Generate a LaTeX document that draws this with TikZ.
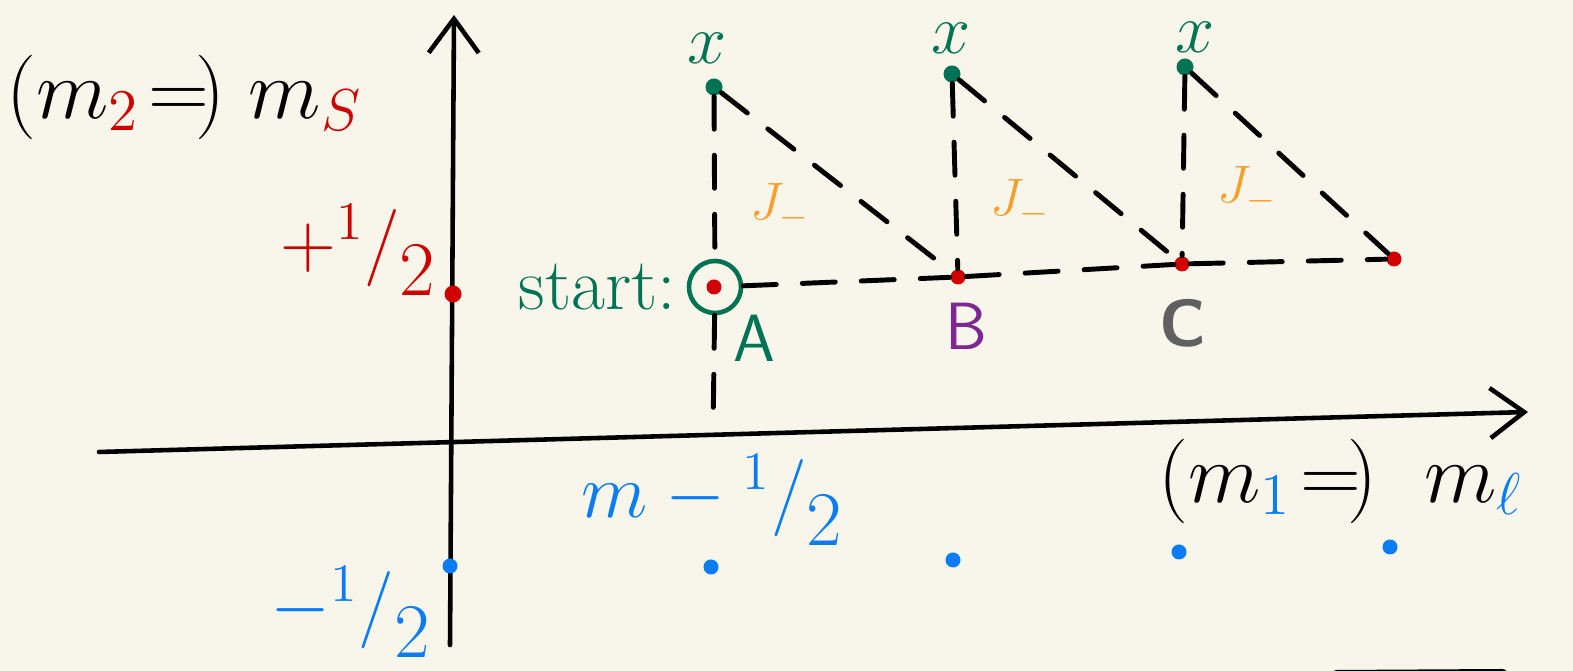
\RequirePackage{fix-cm}
\documentclass[tikz,border=0pt]{standalone}
\usepackage{fontspec}
\usepackage{amsmath,amssymb}
\usepackage{xcolor}
\usepackage{tikz}
\usetikzlibrary{positioning,arrows.meta}

\definecolor{paper}{RGB}{248,246,234}
\definecolor{spinred}{RGB}{208,0,0}
\definecolor{orbblue}{RGB}{10,125,245}
\definecolor{topgreen}{RGB}{0,115,85}
\definecolor{lowerorange}{RGB}{245,160,45}
\definecolor{bpurple}{RGB}{125,40,145}
\definecolor{cgray}{RGB}{96,96,96}

\newcommand{\halfsign}{{}^{1}/\lower.35em\hbox{$2$}}

\begin{document}
\begin{tikzpicture}[x=0.01cm, y=-0.01cm,
    reddot/.style={circle, fill=spinred, inner sep=0pt, minimum size=1.5mm},
    bluedot/.style={circle, fill=orbblue, inner sep=0pt, minimum size=1.5mm},
    topdot/.style={circle, fill=topgreen, inner sep=0pt, minimum size=1.7mm},
    ladder/.style={line width=1.4pt, line cap=round, dash pattern=on 3.3mm off 2.6mm},
    axisline/.style={line width=1.3pt, line cap=round, -{Straight Barb[length=3.4mm, width=5mm]}},
    bigtext/.style={font=\fontsize{24}{28}\selectfont, inner sep=0pt},
    fractext/.style={font=\fontsize{22}{26}\selectfont, inner sep=0pt},
    xlab/.style={text=topgreen, font=\fontsize{20}{24}\selectfont, inner sep=0pt},
    jlab/.style={text=lowerorange, font=\fontsize{15}{18}\selectfont, inner sep=0pt},
    pointlab/.style={font=\sffamily\fontsize{19}{22}\selectfont, inner sep=0pt}
]
    % Rahmen und Papier
    \useasboundingbox (0,0) rectangle (1573,671);
    \fill[paper] (0,0) rectangle (1573,671);

    % Achsen
    \coordinate (yfoot) at (450,645);
    \coordinate (ytip) at (454,15);
    \coordinate (xfoot) at (99,452);
    \coordinate (xtip) at (1528,412);
    \draw[axisline] (yfoot) -- (ytip);
    \draw[axisline] (xfoot) -- (xtip);

    % Achsenbeschriftung
    \node[bigtext, anchor=west] (mslab) at (6,97)
        {$(m_{\textcolor{spinred}{2}}\!=\!)\;m_{\textcolor{spinred}{S}}$};
    \node[bigtext, anchor=west] (mllab) at (1158,481)
        {$(m_{\textcolor{orbblue}{1}}\!=\!)\;\;m_{\textcolor{orbblue}{\ell}}$};
    \node[fractext, text=spinred] (plushalf) at (358,250) {$+\halfsign$};
    \node[fractext, text=orbblue] (minushalf) at (350,612) {$-\halfsign$};
    \node[fractext, text=orbblue] (mhalf) at (712,500) {$m-\halfsign$};

    % Zustaende mit m_s = +1/2
    \node[reddot, minimum size=1.7mm] (sup) at (453,294) {};
    \node[reddot] (A) at (714,287) {};
    \node[draw=topgreen, circle, line width=1.3pt, minimum size=5.2mm, inner sep=0pt] (ring) at (715,287) {};
    \node[reddot] (B) at (958,277) {};
    \node[reddot] (C) at (1182,264) {};
    \node[reddot] (D) at (1394,259) {};

    % obere Punkte
    \node[topdot] (X1) at (714,87) {};
    \node[topdot] (X2) at (952,74) {};
    \node[topdot] (X3) at (1185,67) {};
    \coordinate (foot) at (713,432);

    % Zustaende mit m_s = -1/2
    \foreach \nm/\px/\py in {b0/450/566, b1/711/567, b2/953/560, b3/1179/552, b4/1390/547}
        \node[bluedot] (\nm) at (\px,\py) {};

    % gestrichelte Leiter
    \foreach \p/\q in {ring/B, B/C, C/D, X1/ring, ring/foot, X2/B, X3/C, X1/B, X2/C, X3/D}
        \draw[ladder] (\p) -- (\q);

    % Beschriftungen
    \node[xlab] (x1) at (707,48) {$x$};
    \node[xlab] (x2) at (951,38) {$x$};
    \node[xlab] (x3) at (1195,37) {$x$};
    \foreach \nm/\px/\py in {j1/780/207, j2/1020/203, j3/1247/190}
        \node[jlab] (\nm) at (\px,\py) {$J_-$};
    \node[text=topgreen, font=\fontsize{21}{25}\selectfont, inner sep=0pt, left=1mm of ring] (startlab) {start:};
    \node[pointlab, text=topgreen] (Alab) at (754,338) {A};
    \node[pointlab, text=bpurple] (Blab) at (966,326) {B};
    \node[pointlab, text=cgray, font=\sffamily\bfseries\fontsize{19}{22}\selectfont] (Clab) at (1183,323) {C};

    % Strich am unteren Rand
    \coordinate (edgeL) at (1337,676);
    \coordinate (edgeR) at (1502,675);
    \draw[line width=1.2mm, line cap=round] (edgeL) -- (edgeR);
\end{tikzpicture}
\end{document}
